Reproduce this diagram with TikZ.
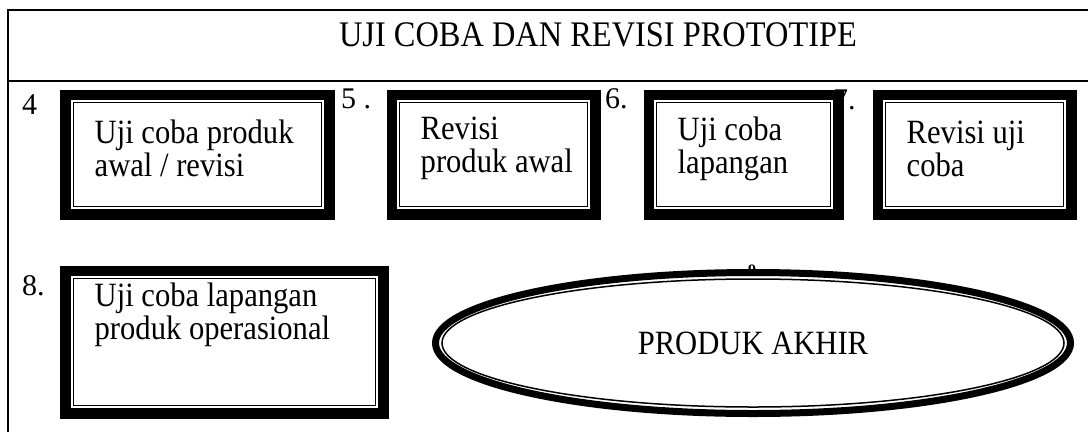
\documentclass[tikz,border=0pt]{standalone}
\usepackage{fontspec}
\setmainfont{Liberation Serif}
\newfontfamily\tinggi[FakeStretch=0.9]{Liberation Serif}
\usepackage{tikz}
\usetikzlibrary{shapes.geometric,positioning}
\newcommand{\tahapfont}{\tinggi\fontsize{34bp}{33bp}\selectfont}
\newcommand{\judulfont}{\tinggi\fontsize{36bp}{36bp}\selectfont}
\newcommand{\nomorfont}{\fontsize{30bp}{32bp}\selectfont}
\tikzset{
  tahap/.style ={rectangle, draw, line width=1bp, fill=white, inner sep=0pt,
                 minimum height=104bp},
  isi/.style   ={inner sep=0pt, align=left, font=\tahapfont},
  nomor/.style ={inner sep=0pt, anchor=base west, font=\nomorfont},
  garis/.style ={line width=1.5bp}
}

\begin{document}
\begin{tikzpicture}[x=1bp, y=1bp]
\useasboundingbox (0,0) rectangle (1088,-432);
% table rules
\draw[garis] (1088,-10) -- (8,-10) -- (8,-432);
\draw[garis] (8,-81) -- (1088,-81);
\node[font=\judulfont, anchor=base] (judul) at (598,-46) {UJI COBA DAN REVISI PROTOTIPE};
% stage boxes
\node[tahap, minimum width=248bp] (b4) at (197.5,-154.5) {};
\node[tahap, minimum width=188bp, right=77bp of b4] (b5) {};
\node[tahap, minimum width=174bp, right=68bp of b5] (b6) {};
\node[tahap, minimum width=178bp, right=54bp of b6] (b7) {};
\node[tahap, minimum width=302bp, minimum height=127bp,
      below=71bp of b4.south west, anchor=north west] (b8) {};
\foreach \n in {b4,b5,b6,b7,b8}{
  \draw[line width=1.5bp] ([shift={(-3,3)}]\n.north west) rectangle ([shift={(3,-3)}]\n.south east);
  \draw[line width=8.5bp] ([shift={(-8.25,8.25)}]\n.north west) rectangle ([shift={(8.25,-8.25)}]\n.south east);
}
\node[isi, right=21.5bp of b4.west, yshift=6bp] (t4) {Uji coba produk\\awal / revisi};
\node[isi, right=21.5bp of b5.west, yshift=6bp] (t5) {Revisi\\produk awal};
\node[isi, right=21.5bp of b6.west, yshift=6bp] (t6) {Uji coba\\lapangan};
\node[isi, right=21.5bp of b7.west, yshift=6bp] (t7) {Revisi uji\\coba};
\node[isi, below right=5bp and 21.5bp of b8.north west] (t8) {Uji coba lapangan\\produk operasional};
% step numbers
\node[nomor] (n4) at (22,-114) {4};
\node[nomor] (n5) at (341,-108) {5 .};
\node[nomor] (n6) at (605,-108) {6.};
\node[nomor] (n7) at (833,-109) {7.};
\node[nomor] (n8) at (22,-295) {8.};
% final product
\node[ellipse, draw, line width=1.5bp, minimum width=622bp, minimum height=128bp,
      inner sep=0pt, font=\tahapfont] (akhir) at (753,-343) {PRODUK AKHIR};
\draw[line width=7bp] (akhir.center) ellipse [x radius=317.5, y radius=70.5];
\node[font=\fontsize{16bp}{16bp}\selectfont\bfseries, inner sep=0pt] (n9) at (752,-270) {9};
\end{tikzpicture}
\end{document}
